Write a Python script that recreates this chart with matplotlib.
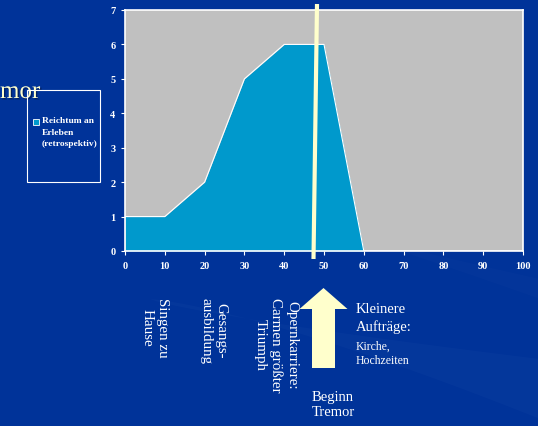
import numpy as np
import matplotlib.pyplot as plt
from matplotlib.patches import FancyArrow, Rectangle, Polygon
import matplotlib.patheffects as pe

# Lebensalter und Reichtum an Erleben
alter = [0, 10, 20, 30, 40, 50, 60, 70, 80, 90, 100]
erleben = [1, 1, 2, 5, 6, 6, 0, 0, 0, 0, 0]
x_ticks = [0, 10, 20, 30, 40, 50, 60, 70, 80, 90, 100]
y_ticks = [0, 1, 2, 3, 4, 5, 6, 7]
serie_name = 'Reichtum an\nErleben\n(retrospektiv)'

phasen = ['Singen zu\nHause', 'Gesangs-\nausbildung',
          'Opernkarriere:\nCarmen größter\nTriumph']

BG = '#003399'
FILL = '#0099CC'
CREAM = '#FFFFCC'
W, H = 538, 427

plt.rcParams['font.family'] = ['Liberation Serif', 'DejaVu Serif']

fig = plt.figure(figsize=(W / 100, H / 100), dpi=100)
fig.patch.set_facecolor(BG)

# Hintergrund mit dezenten Schwüngen
bg = fig.add_axes([0, 0, 1, 1])
bg.set_xlim(0, W)
bg.set_ylim(H, 0)
bg.axis('off')
t = np.linspace(0, 1, 60)
xs = 150 + 390 * t
y1 = 300 + 120 * t ** 1.3
y2 = 300 + 60 * t ** 0.8
bg.add_patch(Polygon(np.c_[np.r_[xs, xs[::-1]], np.r_[y1, y2[::-1]]],
                     closed=True, color='#1a4aa8', alpha=0.18, lw=0))
x3 = 260 + 280 * t
y3 = 210 + 90 * t ** 1.1
y4 = 210 + 70 * t ** 0.9
bg.add_patch(Polygon(np.c_[np.r_[x3, x3[::-1]], np.r_[y3, y4[::-1]]],
                     closed=True, color='#0d3c9e', alpha=0.25, lw=0))

# Titelrest links
bg.text(0, 99, 'mor', color=CREAM, fontsize=18, ha='left', va='baseline',
        path_effects=[pe.withSimplePatchShadow(offset=(1, -1),
                                               shadow_rgbFace='#001a55',
                                               alpha=0.8)])

ax = fig.add_axes([125 / W, 1 - 252 / H, 398 / W, 241 / H])
ax.set_facecolor('#C0C0C0')
ax.fill_between(alter, erleben, 0, color=FILL, lw=0)
ax.plot(alter, erleben, color='white', lw=0.8)
ax.set_xlim(0, 100)
ax.set_ylim(0, 7)
ax.set_xticks(x_ticks)
ax.set_yticks(y_ticks)
for s in ax.spines.values():
    s.set_color('white')
    s.set_linewidth(1.2)
ax.tick_params(colors='white', length=3, width=0.8, labelsize=7.5, pad=4)
for lab in ax.get_xticklabels() + ax.get_yticklabels():
    lab.set_fontweight('bold')

# Vordergrund: Legende, Markierung, Beschriftungen
fg = fig.add_axes([0, 0, 1, 1])
fg.set_xlim(0, W)
fg.set_ylim(H, 0)
fg.axis('off')
fg.patch.set_alpha(0)

fg.add_patch(Rectangle((27, 91), 73, 92, fill=False, ec='white', lw=0.8))
fg.add_patch(Rectangle((33, 120), 6, 6, fc=FILL, ec='white', lw=0.6))
fg.text(42, 117, serie_name, color='white', fontsize=6.8, fontweight='bold',
        va='top', ha='left', linespacing=1.6)

# Beginn Tremor
fg.plot([317, 313.5], [5, 260], color=CREAM, lw=3, solid_capstyle='butt')

for xc, txt in zip([155, 213, 276], phasen):
    fg.text(xc, 298, txt, color='white', fontsize=10.8, rotation=270,
            ha='center', va='top', linespacing=1.2)

fg.add_patch(FancyArrow(323.5, 369, 0, -80, width=23, head_width=48,
                        head_length=21, length_includes_head=True,
                        fc=CREAM, ec='none'))

fg.text(356, 303, 'Kleinere\nAufträge:', color='white', fontsize=10.5,
        va='top', ha='left', linespacing=1.35)
fg.text(356, 341, 'Kirche,\nHochzeiten', color='white', fontsize=8.5,
        va='top', ha='left', linespacing=1.2)
fg.text(312, 391, 'Beginn\nTremor', color='white', fontsize=10.5,
        va='top', ha='left', linespacing=1.2)

fig.savefig('out.png', dpi=100, facecolor=BG)
